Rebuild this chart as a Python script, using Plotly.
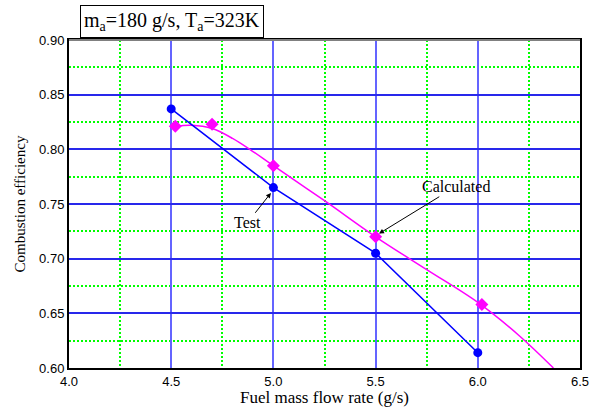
import plotly.graph_objects as go

# Measured combustion efficiency (test)
test_flow = [4.5, 5.0, 5.5, 6.0]
test_eff = [0.837, 0.765, 0.705, 0.614]

# Calculated points (markers)
calc_flow = [4.52, 4.70, 5.0, 5.5, 6.02]
calc_eff = [0.821, 0.823, 0.785, 0.720, 0.658]

# Calculated trend curve
curve_flow = [4.52, 4.60, 4.70, 4.80, 4.90, 5.0, 5.25, 5.5, 5.75, 6.0, 6.2, 6.37]
curve_eff = [0.821, 0.822, 0.819, 0.810, 0.798, 0.785, 0.753, 0.720, 0.690, 0.660, 0.630, 0.600]

serif = "Liberation Serif, Times New Roman, serif"
sans = "Liberation Sans, Arial, sans-serif"

fig = go.Figure()
fig.add_trace(go.Scatter(x=curve_flow, y=curve_eff, mode="lines",
                         line=dict(color="#ff00ff", width=1.5, shape="spline"),
                         showlegend=False, hoverinfo="skip"))
fig.add_trace(go.Scatter(x=calc_flow, y=calc_eff, mode="markers",
                         marker=dict(symbol="diamond", size=10, color="#ff00ff"),
                         showlegend=False))
fig.add_trace(go.Scatter(x=test_flow, y=test_eff, mode="lines+markers",
                         line=dict(color="#0000ff", width=1.5),
                         marker=dict(symbol="circle", size=9, color="#0000ff"),
                         showlegend=False))

minor_grid = dict(showgrid=True, gridcolor="#00ff00", griddash="2px,2px", gridwidth=1.6)

fig.update_xaxes(range=[4.0, 6.5], dtick=0.5, tickformat=".1f", automargin=False,
                 showgrid=True, gridcolor="rgb(100,100,255)", gridwidth=2,
                 minor=dict(dtick=0.25, **minor_grid),
                 showline=True, linecolor="black", linewidth=2, mirror=True,
                 ticks="", zeroline=False,
                 tickfont=dict(family=sans, size=13, color="black"))
fig.update_yaxes(range=[0.60, 0.90], dtick=0.05, tickformat=".2f", automargin=False,
                 showgrid=True, gridcolor="rgb(40,40,235)", gridwidth=1.5,
                 minor=dict(dtick=0.025, **minor_grid),
                 showline=True, linecolor="black", linewidth=2, mirror=True,
                 ticks="", zeroline=False, ticklabelstandoff=0,
                 tickfont=dict(family=sans, size=13, color="black"),
                 title=dict(text="Combustion efficiency",
                            font=dict(family=serif, size=15, color="black"),
                            standoff=10))

# Grey top edge of the frame
fig.add_shape(type="line", xref="paper", yref="paper", x0=0, x1=1, y0=1, y1=1,
              line=dict(color="gray", width=2))

# X-axis title placed below the tick labels
fig.add_annotation(xref="paper", yref="paper", x=0.5, y=-0.09,
                   xanchor="center", yanchor="middle", showarrow=False,
                   text="Fuel mass flow rate (g/s)",
                   font=dict(family=serif, size=17, color="black"))

fig.add_annotation(xref="paper", yref="paper", x=0.021, y=1.005,
                   xanchor="left", yanchor="bottom",
                   text="m<sub>a</sub>=180 g/s, T<sub>a</sub>=323K",
                   showarrow=False, bordercolor="black", borderwidth=1,
                   borderpad=3, bgcolor="white",
                   font=dict(family=serif, size=20, color="black"))

fig.add_annotation(x=5.0, y=0.763, ax=-26, ay=33,
                   text="Test", showarrow=True, arrowhead=2, arrowsize=1,
                   arrowwidth=1, arrowcolor="black", standoff=4,
                   font=dict(family=serif, size=16, color="black"))
fig.add_annotation(x=5.5, y=0.721, ax=80, ay=-49,
                   text="Calculated", showarrow=True, arrowhead=2, arrowsize=1,
                   arrowwidth=1, arrowcolor="black", standoff=4,
                   font=dict(family=serif, size=16, color="black"))

fig.update_layout(width=594, height=408,
                  margin=dict(l=69, r=14, t=40, b=40),
                  paper_bgcolor="white", plot_bgcolor="white")

fig.write_html("out.html")
